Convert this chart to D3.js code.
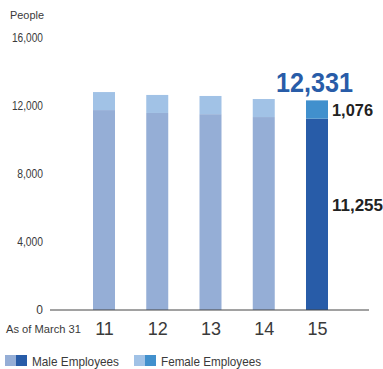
<!DOCTYPE html>
<html>
<head>
<meta charset="utf-8">
<script src="https://cdn.jsdelivr.net/npm/d3@7"></script>
<style>
  html, body { margin: 0; padding: 0; background: #fff; }
  svg { display: block; font-family: "Liberation Sans", Arial, Helvetica, sans-serif; }
</style>
</head>
<body>
<svg id="chart" width="383" height="369"></svg>
<script>
// Employees as of March 31, by fiscal year
const years = ["11", "12", "13", "14", "15"];
const maleEmployees = [11760, 11590, 11520, 11350, 11255];
const femaleEmployees = [1060, 1060, 1070, 1060, 1076];
const yTicks = [0, 4000, 8000, 12000, 16000];

const colors = {
  male: "#95aed6", female: "#a1c2e6",
  maleHi: "#285ca8", femaleHi: "#4190cd"
};

const svg = d3.select("#chart");
const highlight = years.length - 1;

const y = d3.scaleLinear().domain([0, 16000]).range([310, 38]);
const x = d3.scalePoint().domain(years).range([104, 317]);
const barW = 22;

// y-axis tick labels only (no axis line)
const yAxis = d3.axisLeft(y).tickValues(yTicks).tickSize(0).tickPadding(0)
  .tickFormat(d3.format(","));
const gy = svg.append("g").attr("transform", "translate(43,0)").call(yAxis);
gy.select(".domain").remove();
gy.selectAll("text")
  .attr("font-size", 12).attr("fill", "#3a3a3a")
  .attr("font-family", "\"Liberation Sans\", Arial, sans-serif")
  .each(function () {
    const t = d3.select(this);
    const n = t.text().length;
    if (n > 1) t.attr("textLength", n * 5.17).attr("lengthAdjust", "spacingAndGlyphs");
  });

svg.append("text").attr("x", 10).attr("y", 19)
  .attr("font-size", 11.5).attr("fill", "#3a3a3a").text("People")
  .attr("textLength", 34).attr("lengthAdjust", "spacingAndGlyphs");

// stacked bars
const rows = years.map((yr, i) => ({
  yr, i, male: maleEmployees[i], female: femaleEmployees[i]
}));

const bars = svg.append("g");
bars.selectAll("rect.male").data(rows).join("rect")
  .attr("class", "male")
  .attr("x", d => x(d.yr) - barW / 2)
  .attr("width", barW)
  .attr("y", d => y(d.male))
  .attr("height", d => y(0) - y(d.male))
  .attr("fill", d => d.i === highlight ? colors.maleHi : colors.male);

bars.selectAll("rect.female").data(rows).join("rect")
  .attr("class", "female")
  .attr("x", d => x(d.yr) - barW / 2)
  .attr("width", barW)
  .attr("y", d => y(d.male + d.female))
  .attr("height", d => y(d.male) - y(d.male + d.female))
  .attr("fill", d => d.i === highlight ? colors.femaleHi : colors.female);

// baseline
svg.append("line")
  .attr("x1", 50).attr("x2", 369)
  .attr("y1", y(0)).attr("y2", y(0))
  .attr("stroke", "#444").attr("stroke-width", 1);

// x-axis labels
const xAxis = d3.axisBottom(x).tickSize(0).tickPadding(0);
const gx = svg.append("g").attr("transform", "translate(0,335)").call(xAxis);
gx.select(".domain").remove();
gx.selectAll("text")
  .attr("dy", 0).attr("y", 0)
  .attr("font-size", 18).attr("fill", "#3a3a3a")
  .attr("font-family", "\"Liberation Sans\", Arial, sans-serif");

svg.append("text").attr("x", 6).attr("y", 333)
  .attr("font-size", 11.5).attr("fill", "#3a3a3a").text("As of March 31")
  .attr("textLength", 75).attr("lengthAdjust", "spacingAndGlyphs");

// value labels for the latest year
const last = rows[highlight];
const fmt = d3.format(",");
svg.append("text")
  .attr("x", x(last.yr) - 41).attr("y", y(last.male + last.female) - 8)
  .attr("font-size", 27).attr("font-weight", "bold").attr("fill", colors.maleHi)
  .text(fmt(last.male + last.female))
  .attr("textLength", 77).attr("lengthAdjust", "spacingAndGlyphs");

svg.append("text")
  .attr("x", x(last.yr) + 15).attr("y", y(last.male + last.female / 2) + 6)
  .attr("font-size", 16).attr("font-weight", "bold").attr("fill", "#222")
  .text(fmt(last.female))
  .attr("textLength", 41).attr("lengthAdjust", "spacingAndGlyphs");

svg.append("text")
  .attr("x", x(last.yr) + 15).attr("y", y(last.male / 2) - 3)
  .attr("font-size", 16).attr("font-weight", "bold").attr("fill", "#222")
  .text(fmt(last.male))
  .attr("textLength", 51).attr("lengthAdjust", "spacingAndGlyphs");

// legend
const legend = [
  { label: "Male Employees", a: colors.male, b: colors.maleHi, x: 5, w: 87 },
  { label: "Female Employees", a: colors.female, b: colors.femaleHi, x: 134, w: 100 }
];
const lg = svg.append("g").selectAll("g").data(legend).join("g")
  .attr("transform", d => `translate(${d.x},355)`);
lg.append("rect").attr("width", 11).attr("height", 11).attr("fill", d => d.a);
lg.append("rect").attr("x", 11).attr("width", 11).attr("height", 11).attr("fill", d => d.b);
lg.append("text").attr("x", 27).attr("y", 10.5)
  .attr("font-size", 13).attr("fill", "#3a3a3a")
  .text(d => d.label)
  .attr("textLength", d => d.w).attr("lengthAdjust", "spacingAndGlyphs");
</script>
</body>
</html>
